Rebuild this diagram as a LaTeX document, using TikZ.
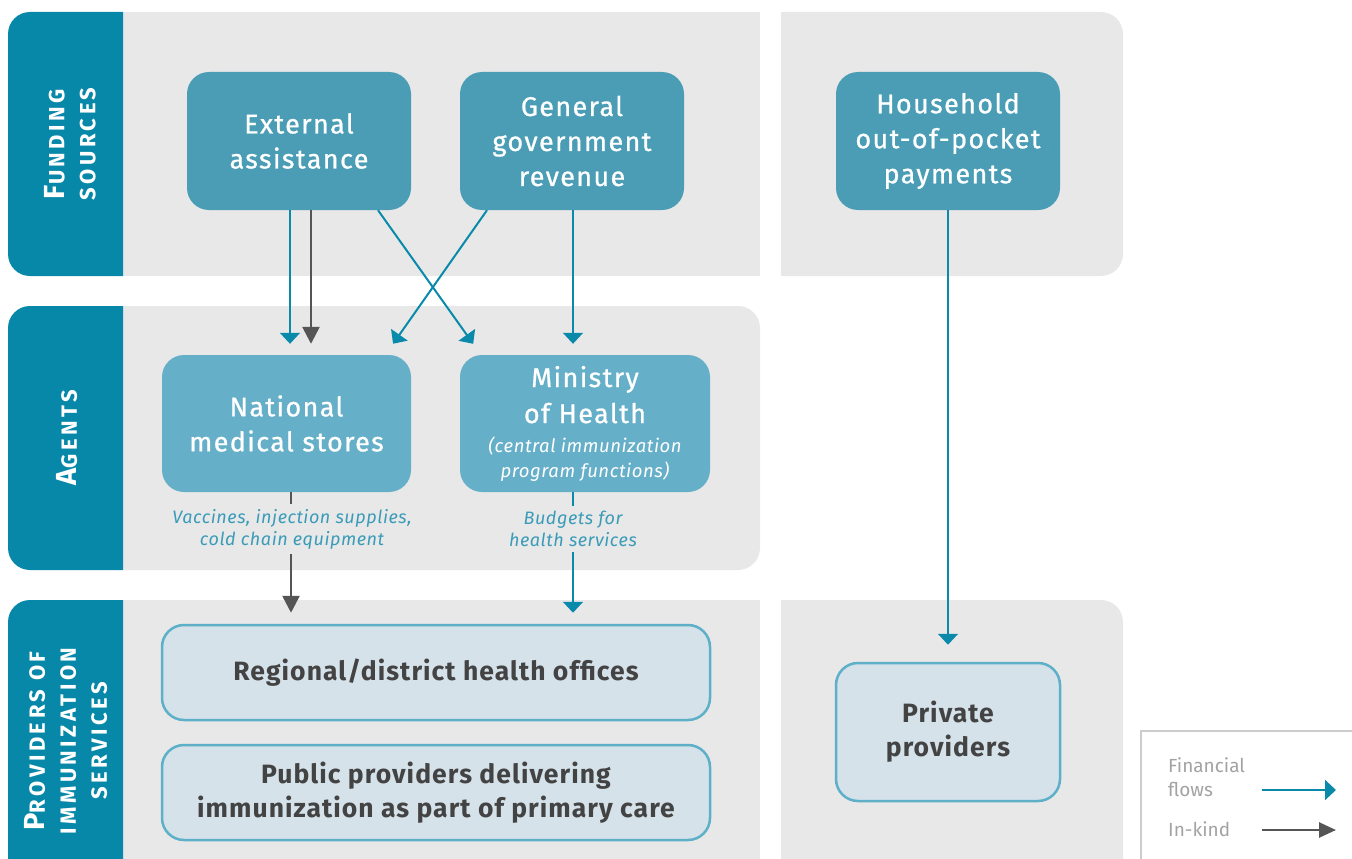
\documentclass[tikz,border=0pt]{standalone}
\usepackage{fontspec}
\setmainfont{Fira Sans}
\newfontfamily\tabfont{Fira Sans}[LetterSpace=16]
\newfontfamily\boxfont{Fira Sans}[LetterSpace=5, FakeBold=0.8]
\newfontfamily\provfont{Fira Sans}[LetterSpace=4]
\newfontfamily\notefont{Fira Sans}[LetterSpace=3]
\usetikzlibrary{arrows.meta,positioning,calc}
\definecolor{tabteal}{HTML}{0788A8}
\definecolor{panelgray}{HTML}{E8E8E8}
\definecolor{fundteal}{HTML}{4A9DB5}
\definecolor{agentteal}{HTML}{66AFC8}
\definecolor{provfill}{HTML}{D5E2EA}
\definecolor{provline}{HTML}{5DB0C8}
\definecolor{flowblue}{HTML}{0A8AAA}
\definecolor{kindgray}{HTML}{555555}
\definecolor{labelblue}{HTML}{3A9BB8}
\definecolor{legline}{HTML}{CCCCCC}
\definecolor{legtext}{HTML}{A3A3A3}
\definecolor{provtext}{HTML}{434343}
\newcommand\tabcap[1]{{\fontsize{29}{29}\selectfont #1}}
\newcommand\mohsub{\notefont\itshape\fontsize{18.5}{23}\selectfont}
\tikzset{
    fund/.style={rectangle, rounded corners=22pt, fill=fundteal, text=white, minimum width=224pt, minimum height=138pt, align=center, font=\boxfont\fontsize{27}{35}\selectfont},
    agent/.style={fund, fill=agentteal, minimum width=249pt, minimum height=137pt},
    prov/.style={rectangle, rounded corners=22pt, draw=provline, line width=2.5pt, fill=provfill, text=provtext, minimum width=548pt, minimum height=95pt, align=center, font=\provfont\bfseries\fontsize{26.5}{34}\selectfont},
    tab/.style={rotate=90, text=white, align=center, font=\tabfont\bfseries\fontsize{22}{31}\selectfont},
    flowlabel/.style={fill=panelgray, text=labelblue, align=center, inner sep=5pt, font=\notefont\itshape\fontsize{18}{22}\selectfont},
    legtext/.style={text=legtext, align=left, inner sep=0pt, font=\fontsize{19}{24}\selectfont},
    fin/.style={draw=flowblue, line width=2pt, shorten >=11pt, -{Triangle[width=20pt,length=11pt]}},
    kind/.style={draw=kindgray, line width=2.6pt, shorten >=11pt, -{Triangle[width=17pt,length=17pt]}}
}

\begin{document}
\begin{tikzpicture}[x=1pt, y=-1pt]
    \useasboundingbox (0,0) rectangle (1352,859);
    \clip (0,0) rectangle (1352,859);

    % bands
    \fill[panelgray] (123,12) rectangle (760,276);
    \begin{scope}
        \clip (781,12) rectangle (1123,276);
        \fill[panelgray, rounded corners=22pt] (740,12) rectangle (1123,276);
    \end{scope}
    \begin{scope}
        \clip (123,306) rectangle (760,570);
        \fill[panelgray, rounded corners=22pt] (80,306) rectangle (760,570);
    \end{scope}
    \fill[panelgray] (123,600) rectangle (760,880);
    \begin{scope}
        \clip (781,600) rectangle (1123,880);
        \fill[panelgray, rounded corners=22pt] (740,600) rectangle (1123,920);
    \end{scope}
    \foreach \ya/\yb in {12/276, 306/570, 600/920} {
        \begin{scope}
            \clip (8,\ya) rectangle (123,\yb);
            \fill[tabteal, rounded corners=22pt] (8,\ya) rectangle (160,\yb);
        \end{scope}
    }

    % row titles
    \node[tab] (tfund) at (70,144) {\tabcap{F}UNDING\\SOURCES};
    \node[tab] (tagent) at (67,438) {\tabcap{A}GENTS};
    \node[tab] (tprov) at (66,741) {\tabcap{P}ROVIDERS OF\\IMMUNIZATION\\SERVICES};

    % funding sources
    \node[fund] (ext) at (299,141) {External\\assistance};
    \node[fund] (gov) at (572,141) {General\\government\\revenue};
    \node[fund] (hh) at (948,141) {Household\\out-of-pocket\\payments};

    % agents
    \node[agent] (nms) at (286.5,423.5) {National\\medical stores};
    \node[agent, minimum width=250pt] (moh) at (585,423.5) {Ministry\\[1pt]of Health\\[-6pt]{\mohsub (central immunization}\\[-10pt]{\mohsub program functions)}};

    % providers
    \node[prov] (rdho) at (436,672.5) {Regional/district health offices};
    \node[prov] (pub) at (436,792.5) {Public providers delivering\\immunization as part of primary care};
    \node[prov, minimum width=224pt, minimum height=138pt] (priv) at (948,732) {Private\\providers};

    % flows
    \draw[fin] ([xshift=-9pt]ext.south) -- ([xshift=3.5pt]nms.north);
    \draw[kind] ([xshift=12pt]ext.south) -- ([xshift=24.5pt]nms.north);
    \draw[fin, shorten >=13.5pt] ([xshift=79pt]ext.south) -- ([xshift=-104pt]moh.north);
    \draw[fin, shorten >=13.5pt] ([xshift=-85pt]gov.south) -- ([xshift=98.8pt]nms.north);
    \draw[fin] ([xshift=1pt]gov.south) -- ([xshift=-12pt]moh.north);
    \draw[kind] ([xshift=4.5pt]nms.south) -- ([xshift=-145pt]rdho.north);
    \draw[fin] ([xshift=-12pt]moh.south) -- ([xshift=137pt]rdho.north);
    \draw[fin, shorten >=17pt] (hh.south) -- (priv.north);

    \node[flowlabel] (vacc) at (292,529) {Vaccines, injection supplies,\\cold chain equipment};
    \node[flowlabel] (budg) at (573,529) {Budgets for\\health services};

    % legend
    \draw[legline, line width=2pt, fill=white] (1141,731) rectangle (1380,900);
    \node[legtext, anchor=west] (lfin) at (1168,777) {Financial\\flows};
    \node[legtext, anchor=west] (lkind) at (1168,829) {In-kind};
    \coordinate (lfa) at (1262,790);
    \coordinate (lfb) at (1336,790);
    \coordinate (lka) at (1262,830);
    \coordinate (lkb) at (1336,830);
    \draw[fin, shorten >=0pt] (lfa) -- (lfb);
    \draw[kind, shorten >=0pt, -{Triangle[width=15pt,length=17pt]}] (lka) -- (lkb);
\end{tikzpicture}
\end{document}
